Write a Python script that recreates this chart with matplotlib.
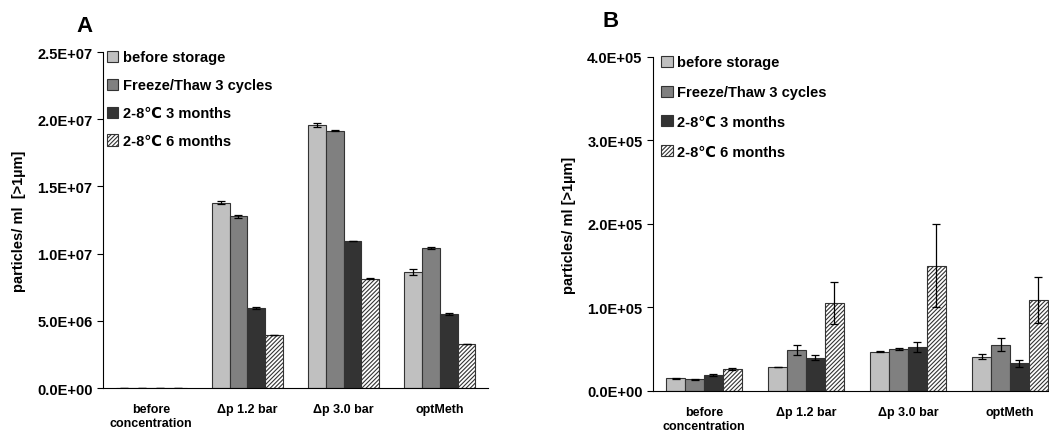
import numpy as np
import matplotlib
matplotlib.use('Agg')
import matplotlib.pyplot as plt

plt.rcParams['font.family'] = ['Liberation Sans', 'DejaVu Sans']
plt.rcParams['font.weight'] = 'bold'
plt.rcParams['hatch.linewidth'] = 0.8

groups = ['before\nconcentration', '\u0394p 1.2 bar', '\u0394p 3.0 bar', 'optMeth']
series = ['before storage', 'Freeze/Thaw 3 cycles', '2-8\u2103 3 months', '2-8\u2103 6 months']

# panel A values (particles/ml > 1um)
a_before = [1.5e4, 1.38e7, 1.954e7, 8.63e6]
a_freeze = [1.4e4, 1.277e7, 1.915e7, 1.042e7]
a_3mo = [1.9e4, 5.95e6, 1.094e7, 5.48e6]
a_6mo = [2.6e4, 3.97e6, 8.13e6, 3.27e6]
a_before_err = [0, 1.0e5, 1.5e5, 2.5e5]
a_freeze_err = [0, 1.2e5, 5e4, 1.0e5]
a_3mo_err = [0, 5e4, 3e4, 8e4]
a_6mo_err = [0, 1e4, 2e4, 2e4]

# panel B values
b_before = [1.52e4, 2.88e4, 4.72e4, 4.12e4]
b_freeze = [1.4e4, 4.96e4, 5.0e4, 5.56e4]
b_3mo = [1.88e4, 4.0e4, 5.32e4, 3.32e4]
b_6mo = [2.6e4, 1.052e5, 1.5e5, 1.088e5]
b_before_err = [500, 500, 1000, 2500]
b_freeze_err = [700, 6000, 1000, 8000]
b_3mo_err = [1000, 2500, 6000, 4000]
b_6mo_err = [1000, 2.5e4, 5.0e4, 2.8e4]

colors = ['#c0c0c0', '#808080', '#333333', 'white']
hatches = [None, None, None, '////////']


def draw_panel(ax, vals, errs, ymax, yticks, ylabel, letter, letter_xy, leg_anchor, leg_space):
    x = np.arange(len(groups))
    w = 0.185
    for i, (v, e) in enumerate(zip(vals, errs)):
        ax.bar(x + (i - 1.5) * w, v, w, color=colors[i], edgecolor='#333333',
               linewidth=0.8, hatch=hatches[i], label=series[i],
               yerr=e, capsize=3, error_kw=dict(ecolor='black', elinewidth=0.9, capthick=0.9))
    ax.set_xlim(-0.5, 3.5)
    ax.set_ylim(0, ymax)
    ax.set_yticks(yticks)
    ax.set_yticklabels(['%.1E' % t for t in yticks], fontsize=10.5, fontweight='bold')
    ax.set_xticks(x)
    ax.set_xticklabels(groups, fontsize=9, fontweight='bold')
    ax.tick_params(axis='x', length=0, pad=11)
    ax.tick_params(axis='y', length=4, width=0.8)
    ax.spines['top'].set_visible(False)
    ax.spines['right'].set_visible(False)
    ax.set_ylabel(ylabel, fontsize=10.5, fontweight='bold', labelpad=8)
    ax.legend(loc='upper left', bbox_to_anchor=leg_anchor, frameon=False,
              prop=dict(size=10.5, weight='bold'), handlelength=0.8, handleheight=0.8,
              handletextpad=0.3, labelspacing=leg_space, borderaxespad=0.3)
    ax.text(letter_xy[0], letter_xy[1], letter, transform=ax.transAxes, fontsize=16,
            fontweight='bold', ha='center', va='center')


fig = plt.figure(figsize=(10.49, 4.35), dpi=100)
ax1 = fig.add_axes([0.0982, 0.1057, 0.367, 0.7724])
ax2 = fig.add_axes([0.6225, 0.0989, 0.389, 0.768])

draw_panel(ax1, [a_before, a_freeze, a_3mo, a_6mo],
           [a_before_err, a_freeze_err, a_3mo_err, a_6mo_err],
           2.5e7, [0, 5e6, 1e7, 1.5e7, 2e7, 2.5e7], 'particles/ ml  [>1\u00b5m]', 'A',
           (-0.048, 1.08), (-0.017, 1.035), 0.95)
draw_panel(ax2, [b_before, b_freeze, b_3mo, b_6mo],
           [b_before_err, b_freeze_err, b_3mo_err, b_6mo_err],
           4e5, [0, 1e5, 2e5, 3e5, 4e5], 'particles/ ml [>1\u00b5m]', 'B',
           (-0.105, 1.11), (-0.005, 1.035), 1.08)

fig.savefig('out.png', dpi=100)
